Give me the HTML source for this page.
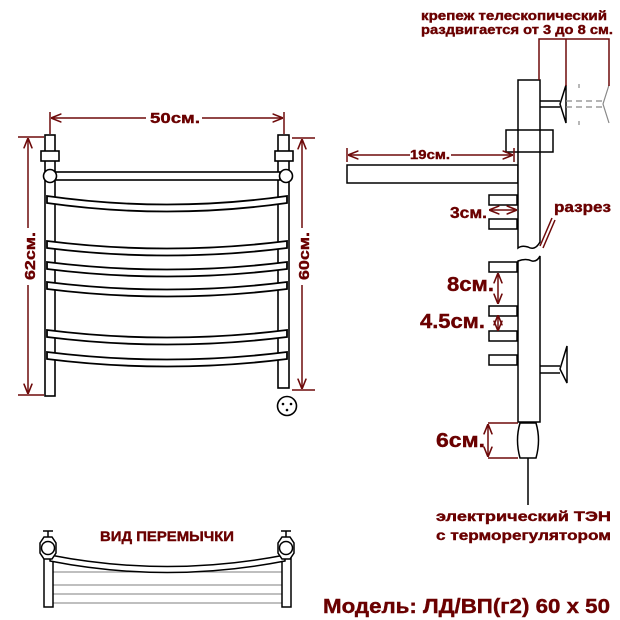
<!DOCTYPE html>
<html><head><meta charset="utf-8"><style>
html,body{margin:0;padding:0;background:#fff;}
svg{display:block}
text{font-family:"Liberation Sans",sans-serif;font-weight:bold;fill:#6a0000;stroke:#6a0000;stroke-width:0.4;}
</style></head><body>
<svg width="620" height="620" viewBox="0 0 620 620" xmlns="http://www.w3.org/2000/svg">
<defs>
<marker id="a" viewBox="0 0 10 10" refX="9" refY="5" markerWidth="7" markerHeight="7" orient="auto-start-reverse"><path d="M0,1 L10,5 L0,9" fill="none" stroke="#6e0a0a" stroke-width="1.5"/></marker>
</defs>
<g fill="#fff" stroke="#000" stroke-width="1.6">
<rect x="45" y="135" width="10" height="261"/>
<rect x="278" y="135" width="11" height="253"/>
<rect x="41" y="151" width="18" height="10"/>
<rect x="275" y="151" width="18" height="10"/>
<rect x="55" y="172" width="225" height="8"/>
<circle cx="50" cy="176" r="6.5"/>
<circle cx="286" cy="176" r="6.5"/>
<circle cx="287" cy="406" r="9.5"/>
</g>
<g fill="#000"><circle cx="283" cy="404" r="1.3"/><circle cx="291" cy="404" r="1.3"/><circle cx="287" cy="410" r="1.3"/></g>
<g fill="#fff" stroke="#000" stroke-width="1.8">
<path d="M47,196 Q167,213 287,196 L287,203 Q167,220 47,203 Z"/>
<path d="M47,241 Q167,256 287,241 L287,248 Q167,263 47,248 Z"/>
<path d="M47,262 Q167,277 287,262 L287,269 Q167,284 47,269 Z"/>
<path d="M47,282 Q167,297 287,282 L287,289 Q167,304 47,289 Z"/>
<path d="M47,330 Q167,345 287,330 L287,337 Q167,352 47,337 Z"/>
<path d="M47,352 Q167,367 287,352 L287,359 Q167,374 47,359 Z"/>
</g>
<g stroke="#6e0a0a" stroke-width="1.5" fill="none">
<line x1="50" y1="112" x2="50" y2="134"/><line x1="284" y1="112" x2="284" y2="134"/>
<line x1="52" y1="118" x2="146" y2="118" marker-start="url(#a)"/><line x1="202" y1="118" x2="282" y2="118" marker-end="url(#a)"/>
<line x1="18" y1="137" x2="44" y2="137"/><line x1="18" y1="395" x2="44" y2="395"/>
<line x1="28" y1="139" x2="28" y2="228" marker-start="url(#a)"/><line x1="28" y1="285" x2="28" y2="393" marker-end="url(#a)"/>
<line x1="292" y1="138" x2="315" y2="138"/><line x1="292" y1="390" x2="315" y2="390"/>
<line x1="302" y1="140" x2="302" y2="228" marker-start="url(#a)"/><line x1="302" y1="285" x2="302" y2="388" marker-end="url(#a)"/>
</g>
<text x="150" y="123" font-size="15" textLength="50" lengthAdjust="spacingAndGlyphs">50см.</text>
<text transform="translate(35,280) rotate(-90)" font-size="15" textLength="48" lengthAdjust="spacingAndGlyphs">62см.</text>
<text transform="translate(309,280) rotate(-90)" font-size="15" textLength="48" lengthAdjust="spacingAndGlyphs">60см.</text>

<!-- RIGHT VIEW -->
<g fill="#fff" stroke="#000" stroke-width="1.5">
<rect x="347" y="165" width="171" height="18"/>
<rect x="489" y="195" width="28" height="10"/><rect x="489" y="219" width="28" height="10"/>
<rect x="489" y="262" width="28" height="10"/><rect x="489" y="306" width="28" height="10"/>
<rect x="489" y="331" width="28" height="10"/><rect x="489" y="355" width="28" height="10"/>
<path d="M518,80 L540,80 L540,242 Q535,251 528,247 Q522,245 518,248 Z"/>
<path d="M518,261 Q526,258 532,261 Q537,262 540,256 L540,422 L518,422 Z"/>
<rect x="506" y="130" width="47" height="22" fill="none"/>
<line x1="540" y1="101" x2="560" y2="101"/><line x1="540" y1="107" x2="560" y2="107"/>
<path d="M566,85 L560,104 L566,123 Z"/>
<line x1="540" y1="366" x2="560" y2="366"/><line x1="540" y1="373" x2="560" y2="373"/>
<path d="M567,346 L560,369 L567,383 Z"/>
<path d="M520,423 L536,423 Q541,440 536,458 L520,458 Q515,440 520,423 Z"/>
<line x1="528" y1="458" x2="528" y2="505"/>
</g>
<g stroke="#888" stroke-width="1.2" fill="none">
<path d="M566,101 H606 M566,107 H606" stroke-dasharray="6,4"/>
<path d="M609,85 L603,104 L609,123"/>
<line x1="579" y1="84" x2="579" y2="88"/><line x1="579" y1="121" x2="579" y2="125"/>
</g>
<g stroke="#6e0a0a" stroke-width="1.5" fill="none">
<path d="M539,80 V39 H609 V86 M566,39 V86"/>
<line x1="347" y1="148" x2="347" y2="162"/><line x1="514" y1="148" x2="514" y2="162"/>
<line x1="349" y1="155" x2="410" y2="155" marker-start="url(#a)"/><line x1="451" y1="155" x2="512" y2="155" marker-end="url(#a)"/>
<line x1="490" y1="210" x2="516" y2="210" marker-start="url(#a)" marker-end="url(#a)"/>
<line x1="498" y1="274" x2="498" y2="303" marker-start="url(#a)" marker-end="url(#a)"/>
<line x1="498" y1="316" x2="498" y2="330" marker-start="url(#a)" marker-end="url(#a)"/>
<line x1="488" y1="423" x2="518" y2="423"/><line x1="488" y1="458" x2="518" y2="458"/>
<line x1="488" y1="425" x2="488" y2="456" marker-start="url(#a)" marker-end="url(#a)"/>
<path d="M540,246 L552,218 M543,248 L555,220"/>
</g>
<text x="421" y="20" font-size="13" textLength="186" lengthAdjust="spacingAndGlyphs">крепеж телескопический</text>
<text x="421" y="34" font-size="13" textLength="192" lengthAdjust="spacingAndGlyphs">раздвигается от 3 до 8 см.</text>
<text x="410" y="159" font-size="13" textLength="40" lengthAdjust="spacingAndGlyphs">19см.</text>
<text x="450" y="218" font-size="16" textLength="37" lengthAdjust="spacingAndGlyphs">3см.</text>
<text x="554" y="212" font-size="15" textLength="57" lengthAdjust="spacingAndGlyphs">разрез</text>
<text x="447" y="291" font-size="20" textLength="47" lengthAdjust="spacingAndGlyphs">8см.</text>
<text x="420" y="328" font-size="20" textLength="65" lengthAdjust="spacingAndGlyphs">4.5см.</text>
<text x="436" y="447" font-size="20" textLength="49" lengthAdjust="spacingAndGlyphs">6см.</text>
<text x="436" y="521" font-size="14" textLength="175" lengthAdjust="spacingAndGlyphs">электрический   ТЭН</text>
<text x="436" y="540" font-size="14" textLength="175" lengthAdjust="spacingAndGlyphs">с терморегулятором</text>
<text x="100" y="541" font-size="14" textLength="134" lengthAdjust="spacingAndGlyphs">ВИД ПЕРЕМЫЧКИ</text>
<text x="323" y="613" font-size="20" textLength="287" lengthAdjust="spacingAndGlyphs">Модель: ЛД/ВП(г2) 60 х 50</text>

<!-- BOTTOM VIEW -->
<g stroke="#999" stroke-width="1.2">
<line x1="53" y1="572" x2="282" y2="572"/><line x1="53" y1="585" x2="282" y2="585"/>
<line x1="53" y1="594" x2="282" y2="594"/><line x1="53" y1="603" x2="282" y2="603"/>
</g>
<g fill="#fff" stroke="#000" stroke-width="1.5">
<rect x="44" y="557" width="9" height="50"/><rect x="282" y="557" width="9" height="50"/>
<path d="M50,555 Q167,578 285,555 L285,561 Q167,584 50,561 Z"/>
<polygon points="40,543 44,537 52,537 56,543 56,553 52,559 44,559 40,553"/>
<circle cx="48" cy="548" r="6.5"/>
<polygon points="278,543 282,537 290,537 294,543 294,553 290,559 282,559 278,553"/>
<circle cx="286" cy="548" r="6.5"/>
<line x1="48" y1="531" x2="48" y2="537"/><line x1="43" y1="531" x2="53" y2="531"/>
<line x1="286" y1="531" x2="286" y2="537"/><line x1="281" y1="531" x2="291" y2="531"/>
</g>
</svg>
</body></html>
